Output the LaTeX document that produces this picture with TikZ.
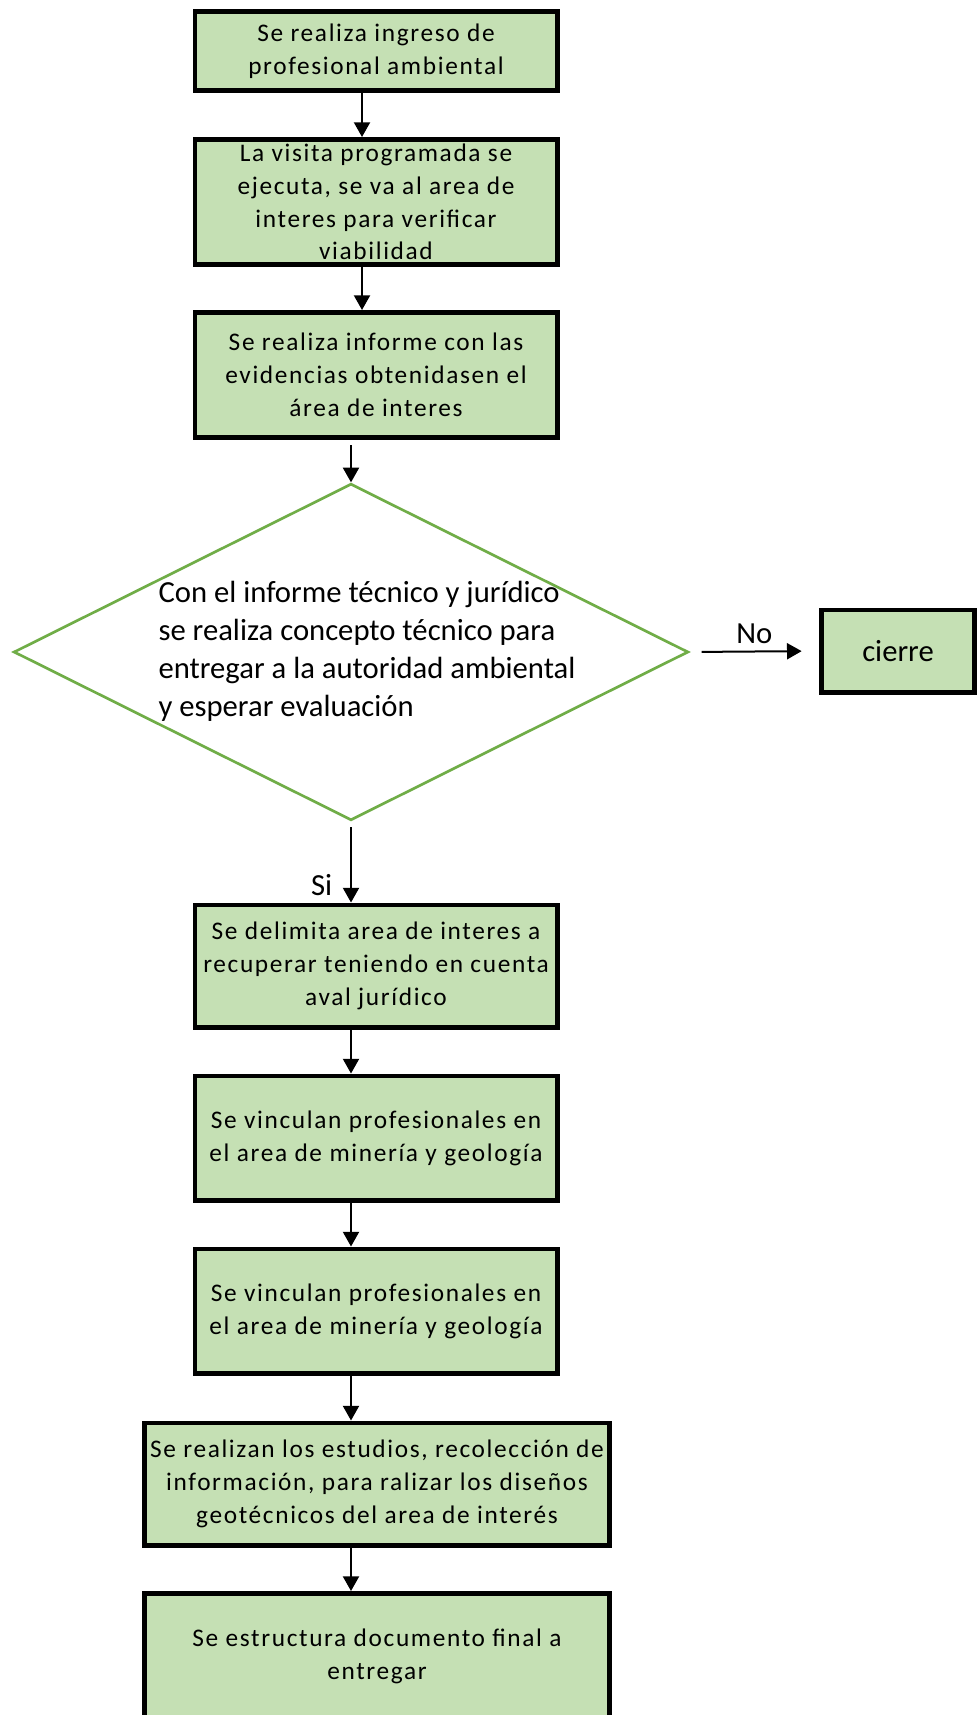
\documentclass[tikz,border=0pt]{standalone}
\usepackage{fontspec}
\setmainfont{Carlito}
\newfontfamily\spacedfont[LetterSpace=6.5]{Carlito}
\usetikzlibrary{shapes.geometric,arrows.meta}
\definecolor{boxgreen}{HTML}{C5E0B4}
\definecolor{linegreen}{HTML}{70AD47}
\tikzset{
  stepbox/.style={rectangle, draw=black, line width=3.5pt, fill=boxgreen, inner sep=1pt,
    minimum width=271.75pt, align=center, font=\spacedfont\fontsize{19}{24.6}\selectfont},
  widebox/.style={stepbox, minimum width=349pt},
  arr/.style={line width=1.5pt, -{Triangle[width=12pt,length=11pt]}},
  bigtext/.style={font=\fontsize{23}{28.5}\selectfont}
}
\begin{document}
\begin{tikzpicture}[x=0.75pt,y=-0.75pt]
\clip (0,0) rectangle (980,1715);
\fill[white] (0,0) rectangle (980,1715);
\node[stepbox, minimum height=59.5pt] (b1) at (376,51) {Se realiza ingreso de\\profesional ambiental};
\node[stepbox, minimum height=94pt] (b2) at (376,202) {La visita programada se\\ejecuta, se va al area de\\interes para verificar\\viabilidad};
\node[stepbox, minimum height=94pt] (b3) at (376,375) {Se realiza informe con las\\evidencias obtenidasen el\\área de interes};
	\node[diamond, draw=linegreen, line width=2pt, minimum width=506pt, minimum height=252.5pt, inner sep=0pt] (dec) at (351,652) {};
	\node[bigtext, align=left] (dectext) at (367,651) {Con el informe técnico y jurídico\\se realiza concepto técnico para\\entregar a la autoridad ambiental\\y esperar evaluación};
	\node[stepbox, bigtext, minimum width=115pt, minimum height=61.75pt] (cierre) at (898,651) {cierre};
\node[stepbox, minimum height=91.75pt] (b4) at (376,966) {Se delimita area de interes a\\recuperar teniendo en cuenta\\aval jurídico};
\node[stepbox, minimum height=93.25pt] (b5) at (376,1138) {Se vinculan profesionales en\\el area de minería y geología};
\node[stepbox, minimum height=93.25pt] (b6) at (376,1311) {Se vinculan profesionales en\\el area de minería y geología};
\node[widebox, minimum height=91.75pt] (b7) at (377,1484) {Se realizan los estudios, recolección de\\información, para ralizar los diseños\\geotécnicos del area de interés};
\node[widebox, minimum height=94pt] (b8) at (377,1656) {Se estructura documento final a\\entregar};
\coordinate (upper) at (362,0);
\draw[arr] (b1.south -| upper) -- (b2.north -| upper);
\draw[arr] (b2.south -| upper) -- (b3.north -| upper);
\draw[arr, shorten <=4pt] (b3.south -| dec) -- (dec.north);
\draw[arr, shorten <=4pt] (dec.south) -- (b4.north -| dec) node[bigtext, pos=0.78, left=10pt] {Si};
\draw[arr, shorten <=9pt, shorten >=13pt] (dec.east) -- (cierre.west) node[bigtext, midway, above=2pt] {No};
\draw[arr] (b4.south -| dec) -- (b5.north -| dec);
\draw[arr] (b5.south -| dec) -- (b6.north -| dec);
\draw[arr] (b6.south -| dec) -- (b7.north -| dec);
\draw[arr] (b7.south -| dec) -- (b8.north -| dec);
\end{tikzpicture}
\end{document}
